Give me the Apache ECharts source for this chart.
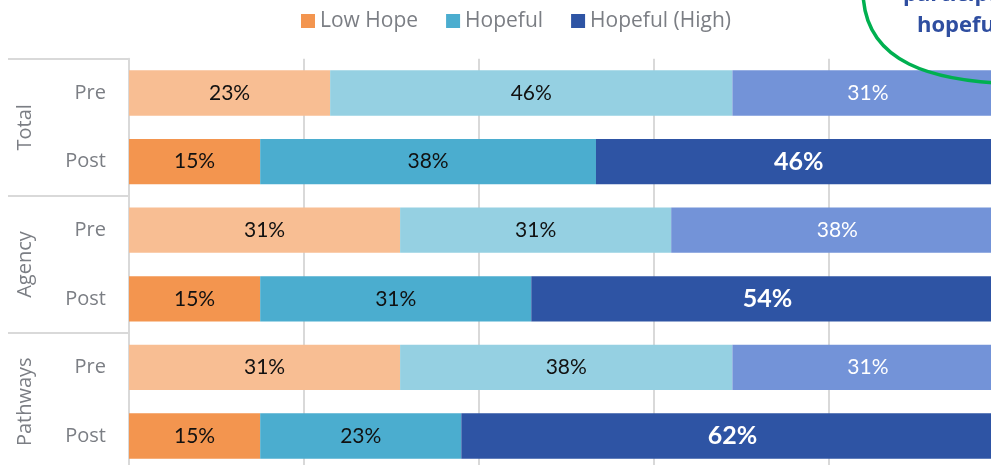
<!DOCTYPE html>
<html>
<head>
<meta charset="utf-8">
<script src="https://cdn.jsdelivr.net/npm/echarts@6/dist/echarts.min.js"></script>
<style>
html,body{margin:0;padding:0;background:#fff;overflow:hidden;}
#chart{width:1012px;height:476px;}
</style>
</head>
<body>
<div id="chart"></div>
<script>
// ---- data ----
const groups = ['Total', 'Agency', 'Pathways'];
const phases = ['Pre', 'Post', 'Pre', 'Post', 'Pre', 'Post'];
const seriesNames = ['Low Hope', 'Hopeful', 'Hopeful (High)'];
const lowHope = [23, 15, 31, 15, 31, 15];
const hopeful = [46, 38.4, 31, 31, 38, 23];
const hopefulHigh = [31, 46.4, 38, 54, 31, 62];
const xTicks = [0, 20, 40, 60, 80, 100];
const annotationLines = ['participants', 'hopeful'];

// ---- styles ----
const FONT = "'Open Sans', 'Noto Sans', sans-serif";
const LABEL_FONT = "Lato, 'Open Sans', sans-serif";
const GRAY = '#7B7E84';
const GRID_LINE = '#D9D9D9';
const palette = {
  'Low Hope': { Pre: '#F8BE93', Post: '#F3954F' },
  'Hopeful': { Pre: '#95D0E2', Post: '#4BADCF' },
  'Hopeful (High)': { Pre: '#7393D8', Post: '#2E54A4' }
};

const chart = echarts.init(document.getElementById('chart'), null, { renderer: 'canvas' });

function makeSeries(name, values) {
  const isHigh = name === 'Hopeful (High)';
  return {
    name: name,
    type: 'bar',
    stack: 'all',
    yAxisIndex: 0,
    barCategoryGap: '34%',
    itemStyle: { color: palette[name].Post },
    data: values.map((v, i) => {
      const ph = phases[i];
      const item = { value: v, itemStyle: { color: palette[name][ph] } };
      if (isHigh) {
        item.label = ph === 'Post'
          ? { color: '#FFFFFF', fontWeight: 'bold', fontSize: 25 }
          : { color: '#FFFFFF', fontWeight: 'normal', fontSize: 21 };
      }
      return item;
    }),
    label: {
      show: true,
      position: 'inside',
      color: '#111111',
      fontSize: 21,
      fontFamily: LABEL_FONT,
      formatter: p => Math.round(p.value) + '%'
    }
  };
}

const option = {
  animation: false,
  backgroundColor: '#FFFFFF',
  legend: {
    left: 296,
    top: 5.5,
    itemWidth: 14,
    itemHeight: 14,
    itemGap: 28,
    icon: 'rect',
    textStyle: { fontFamily: FONT, fontSize: 21, color: GRAY },
    data: seriesNames
  },
  grid: { left: 129, top: 58.7, width: 874.5, height: 411.6, containLabel: false },
  xAxis: {
    type: 'value',
    min: xTicks[0],
    max: xTicks[xTicks.length - 1],
    interval: xTicks[1] - xTicks[0],
    axisLabel: { show: false },
    axisLine: { show: false },
    axisTick: { show: false },
    splitLine: { show: true, lineStyle: { color: GRID_LINE, width: 2 } }
  },
  yAxis: [
    {
      type: 'category',
      data: phases,
      inverse: true,
      position: 'left',
      axisLine: { show: true, lineStyle: { color: GRID_LINE, width: 2 } },
      axisTick: { show: false },
      axisLabel: { fontFamily: FONT, fontSize: 20, color: GRAY, margin: 23 }
    },
    {
      type: 'category',
      data: groups,
      inverse: true,
      position: 'left',
      axisLine: { show: false },
      axisTick: { show: true, length: 121, lineStyle: { color: GRID_LINE, width: 2 } },
      axisLabel: {
        rotate: 90, margin: 104, align: 'center', verticalAlign: 'middle',
        fontFamily: FONT, fontSize: 20, color: GRAY
      },
      splitLine: { show: false }
    }
  ],
  series: [
    makeSeries('Low Hope', lowHope),
    makeSeries('Hopeful', hopeful),
    makeSeries('Hopeful (High)', hopefulHigh)
  ],
  graphic: [
    {
      type: 'bezierCurve',
      z: 100,
      shape: { x1: 863, y1: -10, cpx1: 863, cpy1: 62, cpx2: 930, cpy2: 84, x2: 1030, y2: 84 },
      style: { fill: null, stroke: '#00B050', lineWidth: 3.5 }
    },
    {
      type: 'text', z: 100, x: 903, y: -5,
      style: { text: annotationLines[0], fill: '#2F4EA0', font: "bold 22px 'Open Sans', sans-serif", verticalAlign: 'middle', align: 'left' }
    },
    {
      type: 'text', z: 100, x: 917, y: 26,
      style: { text: annotationLines[1], fill: '#2F4EA0', font: "bold 22px 'Open Sans', sans-serif", verticalAlign: 'middle', align: 'left' }
    }
  ]
};

chart.setOption(option);
</script>
</body>
</html>
